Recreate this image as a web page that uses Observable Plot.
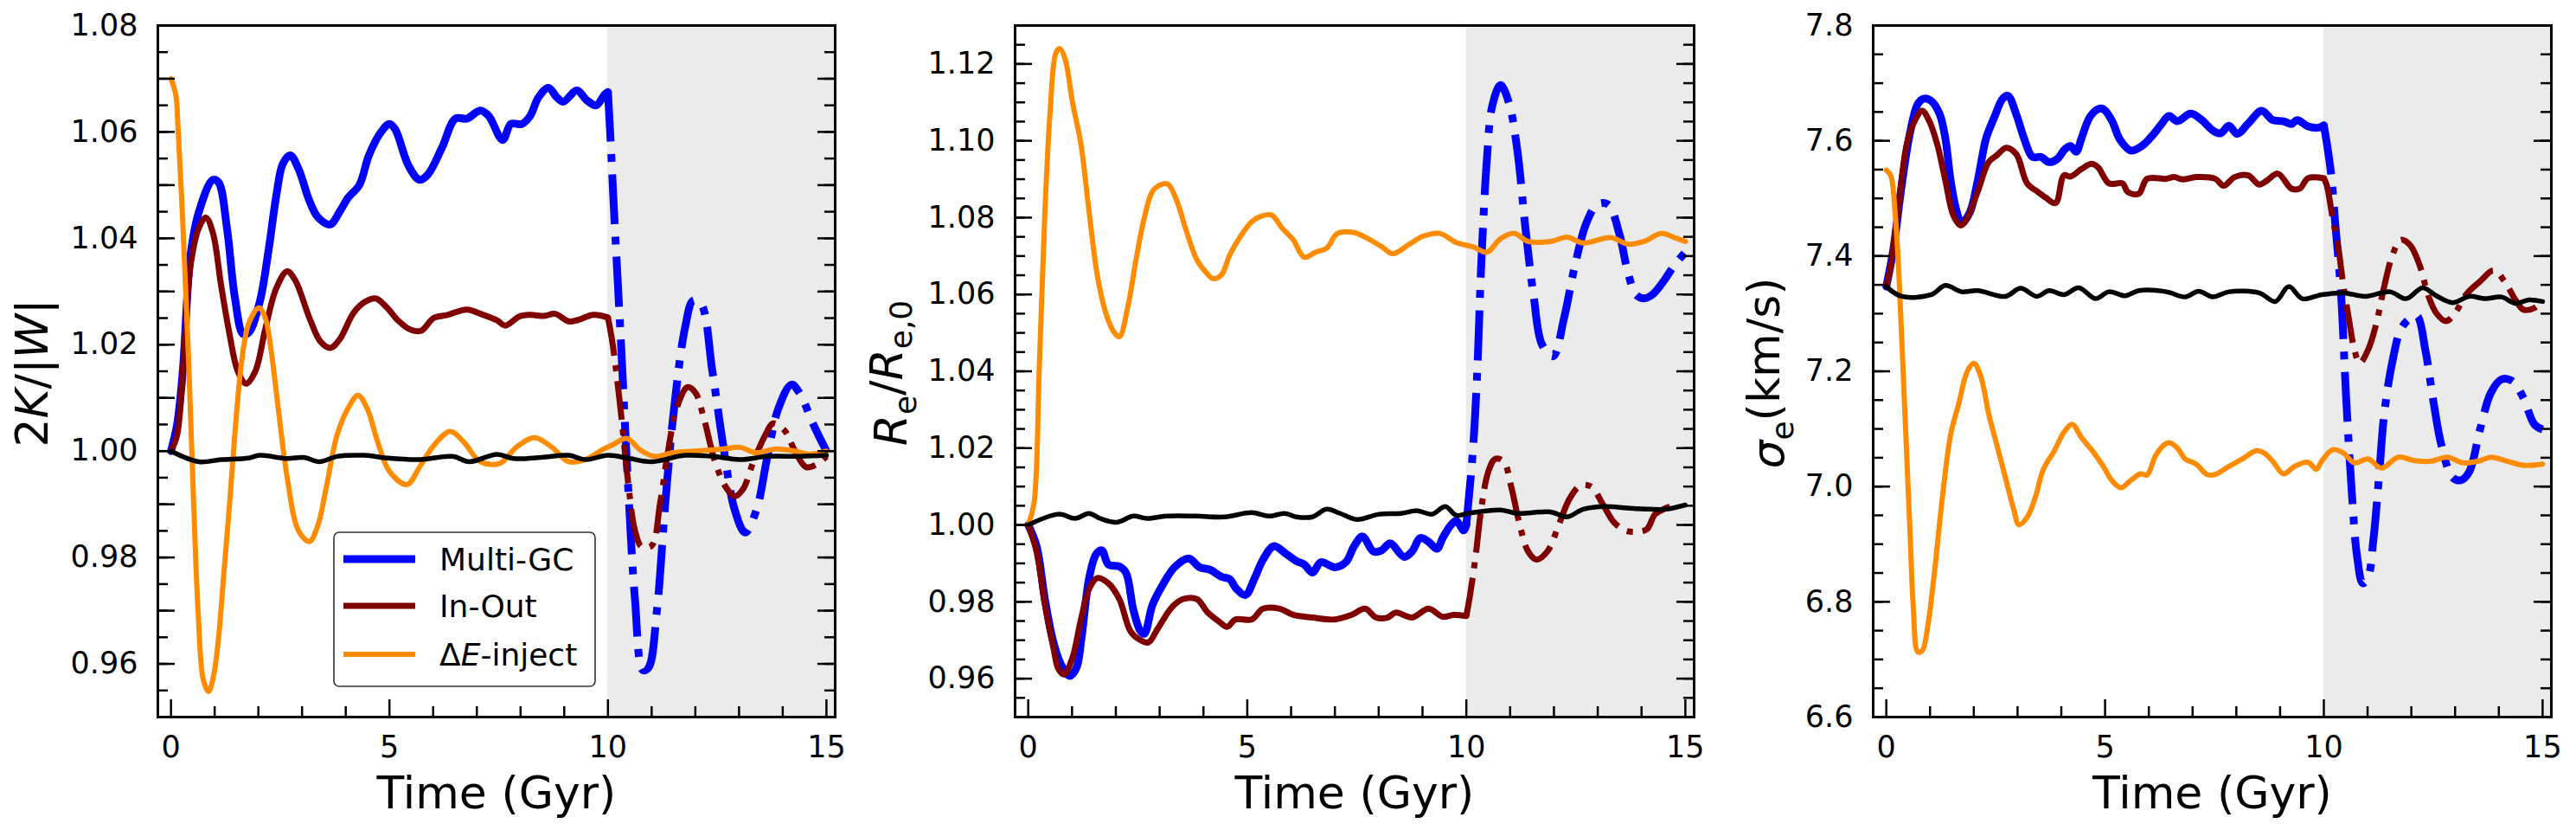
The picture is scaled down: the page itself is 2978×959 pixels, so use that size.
<!DOCTYPE html>
<html><head><meta charset="utf-8">
<script src="https://cdn.jsdelivr.net/npm/d3@7"></script>
<script src="https://cdn.jsdelivr.net/npm/@observablehq/plot@0.6"></script>
<style>
body{margin:0;background:#fff;}
#wrap{position:relative;width:2978px;height:959px;overflow:hidden;font-family:"DejaVu Sans";}
#wrap svg{position:absolute;top:0;}
</style></head><body><div id="wrap"></div>
<script>
// ---------- shared axis values ----------
const xLabel = "Time (Gyr)";
const xDomain = [-0.3, 15.2];
const xMajorTicks = [0, 5, 10, 15];
const xMinorTicks = [1, 2, 3, 4, 6, 7, 8, 9, 11, 12, 13, 14];
const shadeStart = 10;     // grey region begins (Gyr)
const phaseSplit = 10;     // solid -> dash-dot for Multi-GC / In-Out
const legendNames = ["Multi-GC", "In-Out", "ΔE-inject"];

// ---------- panel 1 : 2K/|W| ----------
const p1YDomain = [0.95, 1.08];
const p1YLabels = [0.96, 0.98, 1.00, 1.02, 1.04, 1.06, 1.08];
const p1YMajor = [0.95, 0.96, 0.97, 0.98, 0.99, 1.00, 1.01, 1.02, 1.03, 1.04, 1.05, 1.06, 1.07, 1.08];
const p1YMinorStep = 0.005;
const p1Multi = [[0,1.000],[0.14,1.005],[0.27,1.015],[0.45,1.037],[0.64,1.045],[0.96,1.051],[1.09,1.0505],[1.28,1.042],[1.46,1.029],[1.65,1.022],[1.78,1.0223],[2.03,1.028],[2.22,1.037],[2.41,1.048],[2.56,1.054],[2.73,1.0556],[2.92,1.053],[3.17,1.047],[3.36,1.044],[3.64,1.0426],[3.86,1.045],[4.05,1.0476],[4.31,1.050],[4.53,1.0556],[4.81,1.060],[5.0,1.0615],[5.13,1.0605],[5.44,1.0536],[5.69,1.051],[5.88,1.052],[6.2,1.057],[6.51,1.0625],[6.77,1.0625],[7.08,1.064],[7.27,1.063],[7.59,1.0585],[7.78,1.0615],[8.03,1.0615],[8.22,1.063],[8.41,1.0665],[8.64,1.0683],[8.83,1.0665],[8.98,1.0657],[9.29,1.0678],[9.51,1.066],[9.73,1.065],[9.92,1.067],[10.0,1.0675],[10.05,1.060],[10.14,1.045],[10.3,1.020],[10.45,0.9952],[10.62,0.972],[10.8,0.9588],[10.93,0.9593],[11.12,0.970],[11.31,0.990],[11.5,1.007],[11.76,1.023],[11.95,1.0283],[12.13,1.0277],[12.39,1.015],[12.64,1.001],[12.9,0.989],[13.14,0.9847],[13.4,0.989],[13.65,0.999],[13.9,1.008],[14.2,1.0125],[14.4,1.0107],[14.7,1.005],[15.0,1.000]];
const p1InOut = [[0,1.000],[0.14,1.003],[0.27,1.015],[0.45,1.035],[0.64,1.042],[0.8,1.0439],[0.96,1.041],[1.15,1.031],[1.34,1.022],[1.53,1.015],[1.72,1.0127],[1.93,1.015],[2.16,1.023],[2.41,1.0306],[2.66,1.0338],[2.85,1.032],[3.17,1.025],[3.42,1.0206],[3.65,1.0194],[3.86,1.021],[4.18,1.026],[4.43,1.028],[4.68,1.0287],[4.94,1.027],[5.19,1.0246],[5.44,1.023],[5.72,1.0226],[6.01,1.025],[6.33,1.0256],[6.77,1.0266],[7.15,1.0256],[7.46,1.0246],[7.65,1.0236],[7.97,1.0253],[8.22,1.0256],[8.54,1.0254],[8.79,1.0258],[9.1,1.0244],[9.29,1.0246],[9.67,1.0256],[10.0,1.0251],[10.11,1.020],[10.3,1.007],[10.45,0.995],[10.62,0.985],[10.77,0.982],[11.0,0.9822],[11.19,0.990],[11.38,1.0002],[11.57,1.008],[11.82,1.012],[12.0,1.011],[12.2,1.006],[12.45,0.998],[12.7,0.9932],[12.9,0.9915],[13.08,0.9927],[13.33,0.998],[13.6,1.003],[13.78,1.0052],[14.03,1.004],[14.28,1.000],[14.53,0.997],[14.78,0.9975],[15.0,0.999]];
const p1Inject = [[0,1.070],[0.11,1.067],[0.16,1.061],[0.27,1.043],[0.39,1.020],[0.52,0.990],[0.62,0.970],[0.74,0.957],[0.86,0.9548],[0.98,0.958],[1.09,0.965],[1.21,0.977],[1.34,0.990],[1.46,1.003],[1.62,1.017],[1.78,1.024],[2.01,1.0269],[2.16,1.025],[2.29,1.019],[2.47,1.007],[2.66,0.995],[2.92,0.985],[3.17,0.983],[3.36,0.986],[3.55,0.993],[3.8,1.003],[4.05,1.008],[4.28,1.0105],[4.49,1.008],[4.75,1.0012],[5.0,0.9962],[5.4,0.9937],[5.69,0.997],[6.01,1.001],[6.39,1.0037],[6.7,1.0017],[7.08,0.998],[7.53,0.9977],[7.9,1.0007],[8.32,1.0025],[8.72,1.0007],[9.1,0.998],[9.48,0.9984],[9.86,1.0002],[10.11,1.0012],[10.43,1.0024],[10.74,1.0002],[11.06,0.999],[11.5,0.9997],[12.0,1.000],[12.64,1.0004],[13.02,1.0007],[13.4,0.9997],[13.84,1.0004],[14.28,1.000],[14.6,0.9994],[15.0,1.000]];
const p1Isolated = [[0,1.000],[0.64,0.998],[1.15,0.9984],[1.78,0.9987],[2.03,0.9992],[2.66,0.9986],[3.04,0.9988],[3.4,0.998],[3.8,0.999],[4.43,0.9992],[4.94,0.9987],[5.69,0.9984],[6.45,0.999],[6.83,0.998],[7.46,0.9994],[7.84,0.9986],[8.47,0.9988],[9.1,0.9992],[9.48,0.9984],[10.0,0.9992],[10.5,0.9986],[11.0,0.998],[11.76,0.9992],[12.39,0.999],[13.02,0.9984],[13.65,0.999],[14.4,0.999],[15.0,0.9992]];

// ---------- panel 2 : Re/Re,0 ----------
const p2YDomain = [0.95, 1.13];
const p2YLabels = [0.96, 0.98, 1.00, 1.02, 1.04, 1.06, 1.08, 1.10, 1.12];
const p2YMajor = p2YLabels;
const p2YMinorStep = 0.005;
const p2Multi = [[0,1.000],[0.19,0.9945],[0.38,0.9807],[0.57,0.9697],[0.76,0.9634],[0.95,0.9607],[1.1,0.9628],[1.22,0.971],[1.39,0.9862],[1.55,0.9924],[1.68,0.9934],[1.83,0.9897],[2.08,0.9892],[2.23,0.9876],[2.4,0.9779],[2.56,0.9724],[2.65,0.9717],[2.84,0.9793],[3.09,0.9848],[3.34,0.989],[3.66,0.9913],[3.91,0.989],[4.16,0.9883],[4.41,0.9865],[4.6,0.9859],[4.75,0.9834],[4.96,0.9818],[5.17,0.9862],[5.36,0.991],[5.61,0.9945],[5.86,0.9927],[6.12,0.9906],[6.3,0.9897],[6.49,0.9876],[6.68,0.9903],[7.0,0.989],[7.25,0.9903],[7.44,0.9945],[7.63,0.997],[7.88,0.9931],[8.07,0.9934],[8.26,0.9952],[8.58,0.9917],[8.76,0.9931],[8.95,0.9966],[9.14,0.9956],[9.33,0.9938],[9.46,0.9966],[9.65,1.000],[9.77,1.0011],[9.94,0.9986],[10.0,1.000],[10.15,1.0193],[10.25,1.040],[10.34,1.0676],[10.47,1.0952],[10.59,1.109],[10.78,1.1145],[10.97,1.110],[11.16,1.0979],[11.35,1.0772],[11.54,1.0593],[11.73,1.0469],[11.98,1.0439],[12.23,1.0538],[12.48,1.0676],[12.74,1.0786],[12.99,1.0834],[13.24,1.0834],[13.49,1.0759],[13.68,1.0662],[13.87,1.060],[14.06,1.059],[14.25,1.060],[14.5,1.0634],[14.75,1.0676],[15.0,1.071]];
const p2InOut = [[0,1.000],[0.19,0.9931],[0.38,0.9793],[0.57,0.9683],[0.69,0.9625],[0.82,0.9611],[1.01,0.9655],[1.2,0.9752],[1.39,0.9834],[1.58,0.9862],[1.83,0.9848],[2.08,0.9807],[2.33,0.9724],[2.52,0.9703],[2.74,0.9694],[2.96,0.9731],[3.28,0.9786],[3.53,0.9807],[3.85,0.9807],[4.1,0.9772],[4.35,0.9749],[4.54,0.9735],[4.73,0.9754],[5.1,0.9754],[5.36,0.9782],[5.74,0.9782],[6.05,0.9766],[6.49,0.9759],[7.0,0.9754],[7.38,0.9766],[7.69,0.9782],[7.94,0.9759],[8.2,0.9759],[8.39,0.9772],[8.76,0.9759],[9.14,0.9782],[9.46,0.9761],[9.71,0.9766],[10.0,0.9763],[10.09,0.9821],[10.21,0.9917],[10.34,1.0041],[10.5,1.0138],[10.66,1.0172],[10.85,1.0166],[11.03,1.0097],[11.22,1.000],[11.41,0.9931],[11.6,0.991],[11.85,0.9931],[12.11,1.000],[12.36,1.0069],[12.61,1.0103],[12.86,1.0099],[13.11,1.0055],[13.37,1.0007],[13.62,0.9986],[13.87,0.9982],[14.12,0.9989],[14.31,1.0028],[14.56,1.0044],[14.82,1.0055]];
const p2Inject = [[0,1.000],[0.13,1.0055],[0.25,1.040],[0.38,1.0814],[0.5,1.1076],[0.63,1.1228],[0.72,1.124],[0.84,1.1214],[1.01,1.110],[1.2,1.0993],[1.39,1.0814],[1.58,1.0648],[1.77,1.0552],[1.95,1.0503],[2.08,1.049],[2.27,1.0566],[2.46,1.069],[2.65,1.080],[2.84,1.0869],[3.03,1.0886],[3.19,1.0887],[3.4,1.0841],[3.59,1.0772],[3.85,1.069],[4.04,1.066],[4.22,1.0641],[4.41,1.0651],[4.6,1.0703],[4.85,1.0752],[5.1,1.0789],[5.3,1.0803],[5.55,1.0807],[5.8,1.0772],[6.05,1.0742],[6.3,1.0697],[6.56,1.071],[6.81,1.072],[7.06,1.0759],[7.44,1.0761],[7.76,1.0745],[8.07,1.0724],[8.32,1.0706],[8.7,1.0731],[9.02,1.0752],[9.39,1.0759],[9.77,1.0735],[10.15,1.0724],[10.47,1.071],[10.78,1.0745],[11.1,1.0759],[11.41,1.0738],[11.92,1.0738],[12.3,1.0749],[12.67,1.0734],[13.3,1.0748],[13.68,1.0731],[14.06,1.0738],[14.44,1.0759],[14.75,1.0748],[15.0,1.0738]];
const p2Isolated = [[0,1.000],[0.69,1.0028],[1.07,1.0017],[1.39,1.003],[1.64,1.0017],[2.02,1.0007],[2.4,1.0023],[2.71,1.0017],[3.15,1.0023],[3.85,1.0023],[4.48,1.0021],[5.1,1.0032],[5.49,1.0023],[5.86,1.003],[6.12,1.0021],[6.49,1.0021],[6.81,1.0041],[7.12,1.003],[7.5,1.0014],[8.01,1.0028],[8.51,1.003],[8.89,1.0037],[9.21,1.0028],[9.52,1.0048],[9.77,1.0025],[10.03,1.003],[10.78,1.0039],[11.16,1.003],[11.92,1.0034],[12.3,1.0021],[12.67,1.0041],[13.18,1.0048],[13.68,1.0044],[14.19,1.0041],[14.56,1.0041],[15.0,1.0052]];

// ---------- panel 3 : sigma_e (km/s) ----------
const p3YDomain = [6.6, 7.8];
const p3YLabels = [6.6, 6.8, 7.0, 7.2, 7.4, 7.6, 7.8];
const p3YMajor = p3YLabels;
const p3YMinorStep = 0.05;
const p3Multi = [[0,7.347],[0.16,7.411],[0.35,7.522],[0.54,7.613],[0.72,7.664],[0.85,7.673],[1.03,7.669],[1.22,7.646],[1.35,7.604],[1.47,7.531],[1.6,7.48],[1.72,7.457],[1.91,7.476],[2.09,7.531],[2.28,7.604],[2.47,7.641],[2.66,7.673],[2.78,7.678],[2.97,7.646],[3.15,7.604],[3.34,7.572],[3.53,7.572],[3.72,7.563],[3.9,7.568],[4.09,7.586],[4.21,7.591],[4.34,7.581],[4.46,7.604],[4.65,7.641],[4.84,7.655],[4.96,7.655],[5.15,7.636],[5.34,7.602],[5.59,7.583],[5.84,7.591],[6.08,7.609],[6.27,7.627],[6.46,7.643],[6.65,7.634],[6.96,7.647],[7.21,7.636],[7.46,7.618],[7.64,7.613],[7.83,7.626],[8.02,7.612],[8.27,7.63],[8.58,7.652],[8.83,7.636],[9.08,7.634],[9.26,7.629],[9.39,7.636],[9.64,7.625],[9.89,7.623],[10.0,7.627],[10.07,7.595],[10.17,7.54],[10.26,7.457],[10.39,7.338],[10.51,7.154],[10.64,6.989],[10.76,6.879],[10.89,6.832],[11.01,6.842],[11.13,6.906],[11.26,7.016],[11.38,7.126],[11.57,7.218],[11.76,7.273],[11.97,7.292],[12.13,7.296],[12.32,7.237],[12.51,7.145],[12.69,7.071],[12.94,7.016],[13.13,7.011],[13.32,7.025],[13.57,7.099],[13.82,7.163],[14.06,7.186],[14.31,7.183],[14.56,7.154],[14.81,7.108],[15.0,7.099]];
const p3InOut = [[0,7.347],[0.1,7.384],[0.29,7.494],[0.47,7.595],[0.66,7.636],[0.82,7.652],[0.97,7.636],[1.16,7.595],[1.35,7.531],[1.53,7.471],[1.7,7.453],[1.85,7.466],[2.09,7.512],[2.34,7.563],[2.53,7.575],[2.74,7.588],[2.97,7.577],[3.22,7.526],[3.47,7.511],[3.65,7.501],[3.87,7.492],[4.06,7.54],[4.21,7.538],[4.46,7.551],[4.69,7.56],[4.84,7.554],[5.09,7.526],[5.4,7.526],[5.52,7.511],[5.77,7.508],[5.96,7.534],[6.4,7.534],[6.58,7.537],[6.77,7.533],[7.08,7.537],[7.52,7.534],[7.71,7.522],[7.96,7.537],[8.27,7.54],[8.52,7.524],[8.7,7.531],[8.95,7.543],[9.26,7.517],[9.45,7.517],[9.64,7.535],[10.0,7.535],[10.07,7.522],[10.2,7.466],[10.32,7.42],[10.45,7.347],[10.57,7.292],[10.7,7.237],[10.82,7.214],[11.01,7.237],[11.2,7.283],[11.38,7.347],[11.57,7.402],[11.76,7.428],[11.97,7.419],[12.19,7.384],[12.38,7.333],[12.57,7.301],[12.79,7.287],[13.0,7.301],[13.25,7.333],[13.57,7.356],[13.88,7.375],[14.13,7.356],[14.38,7.324],[14.56,7.307],[14.81,7.31],[15.0,7.324]];
const p3Inject = [[0,7.549],[0.1,7.54],[0.2,7.476],[0.29,7.365],[0.41,7.154],[0.54,6.925],[0.62,6.787],[0.72,6.713],[0.82,6.715],[0.95,6.759],[1.1,6.851],[1.28,6.98],[1.47,7.09],[1.66,7.145],[1.85,7.2],[2.0,7.214],[2.16,7.191],[2.34,7.126],[2.53,7.071],[2.72,7.016],[2.91,6.961],[3.03,6.934],[3.22,6.947],[3.4,6.98],[3.59,7.03],[3.84,7.062],[4.06,7.094],[4.25,7.108],[4.46,7.085],[4.71,7.062],[4.96,7.035],[5.15,7.011],[5.36,6.998],[5.59,7.011],[5.81,7.022],[5.96,7.02],[6.15,7.053],[6.33,7.071],[6.46,7.076],[6.65,7.067],[6.83,7.048],[7.08,7.039],[7.33,7.021],[7.52,7.021],[7.83,7.035],[8.14,7.048],[8.45,7.062],[8.64,7.058],[8.83,7.044],[9.08,7.022],[9.33,7.035],[9.64,7.042],[9.83,7.03],[9.95,7.044],[10.2,7.064],[10.45,7.058],[10.7,7.041],[11.01,7.048],[11.32,7.032],[11.7,7.051],[12.07,7.045],[12.44,7.044],[12.82,7.051],[13.19,7.041],[13.57,7.045],[13.82,7.051],[14.19,7.044],[14.56,7.037],[15.0,7.039]];
const p3Isolated = [[0,7.347],[0.35,7.33],[1.03,7.333],[1.35,7.349],[1.72,7.338],[2.09,7.34],[2.72,7.33],[3.07,7.344],[3.44,7.33],[3.72,7.34],[4.06,7.333],[4.4,7.345],[4.78,7.326],[5.09,7.338],[5.46,7.331],[5.77,7.34],[6.4,7.338],[6.83,7.329],[7.14,7.339],[7.46,7.329],[7.83,7.338],[8.52,7.336],[8.89,7.321],[9.2,7.347],[9.51,7.326],[9.95,7.333],[10.45,7.336],[10.95,7.33],[11.51,7.338],[11.88,7.326],[12.26,7.345],[12.57,7.331],[12.94,7.319],[13.32,7.33],[13.69,7.326],[14.06,7.329],[14.38,7.318],[14.69,7.324],[15.0,7.321]];

// ---------- styles ----------
const C = {multi: "#0000ff", inout: "#800000", inject: "#ff8c00", iso: "#000000"};
const LW = {multi: 9, inout: 7, inject: 6, iso: 5.5};
const SHADE = "#ebebeb";
const FONT = "DejaVu Sans";
const H = 959, MT = 29, MB = 131;

function rows(a) { return a.map(([t, v]) => ({t, v})); }

function lineMarks(arr, color, w, splitDash) {
  const d = rows(arr);
  const base = {x: "t", y: "v", stroke: color, strokeWidth: w, curve: "catmull-rom", strokeLinejoin: "round"};
  if (!splitDash) return [Plot.line(d, {...base, strokeLinecap: "round"})];
  return [
    Plot.line(d.filter(p => p.t <= phaseSplit), {...base, strokeLinecap: "round"}),
    Plot.line(d.filter(p => p.t >= phaseSplit), {...base, strokeLinecap: "butt",
      strokeDasharray: [6.4 * w, 1.6 * w, 1.0 * w, 1.6 * w].join(",")})
  ];
}

function panel(cfg) {
  const fw = cfg.width - cfg.ml - cfg.mr, fh = H - MT - MB;
  const n0 = Math.round(cfg.yDomain[0] / cfg.yMinorStep), n1 = Math.round(cfg.yDomain[1] / cfg.yMinorStep);
  const yMinor = d3.range(n0, n1 + 1).map(k => +(k * cfg.yMinorStep).toFixed(4));
  const tk = {stroke: "#000", strokeWidth: 2.5};
  const plot = Plot.plot({
    width: cfg.width, height: H,
    marginLeft: cfg.ml, marginRight: cfg.mr, marginTop: MT, marginBottom: MB,
    style: {fontFamily: FONT, fontSize: "35px", background: "transparent", overflow: "visible", color: "#000"},
    x: {domain: xDomain},
    y: {domain: cfg.yDomain},
    marks: [
      Plot.rect([{x1: shadeStart, x2: xDomain[1]}], {x1: "x1", x2: "x2", fill: SHADE}),
      ...lineMarks(cfg.multi, C.multi, LW.multi, true),
      ...lineMarks(cfg.inout, C.inout, LW.inout, true),
      ...lineMarks(cfg.inject, C.inject, LW.inject, false),
      ...lineMarks(cfg.iso, C.iso, LW.iso, false),
      // inward ticks: left & right (y), bottom (x)
      Plot.tickY(yMinor, {y: d => d, insetRight: fw - 12, ...tk}),
      Plot.tickY(yMinor, {y: d => d, insetLeft: fw - 12, ...tk}),
      Plot.tickY(cfg.yMajor, {y: d => d, insetRight: fw - 20, ...tk}),
      Plot.tickY(cfg.yMajor, {y: d => d, insetLeft: fw - 20, ...tk}),
      Plot.tickX(xMinorTicks, {x: d => d, insetTop: fh - 12, ...tk}),
      Plot.tickX(xMajorTicks, {x: d => d, insetTop: fh - 20, ...tk}),
      Plot.axisY({ticks: cfg.yLabels, tickSize: 0, tickPadding: 23, tickFormat: d3.format(cfg.fmt), label: null, fontSize: 35}),
      Plot.axisX({ticks: xMajorTicks, tickSize: 0, tickPadding: 22, tickFormat: d3.format("d"), label: null, fontSize: 35}),
      Plot.text([xLabel], {text: d => d, frameAnchor: "bottom", dy: 105, lineAnchor: "bottom", fontSize: 52}),
      Plot.frame({stroke: "#000", strokeWidth: 3})
    ]
  });
  plot.style.left = cfg.left + "px";
  document.getElementById("wrap").appendChild(plot);
  // rich y label (italic symbols, subscripts)
  const svg = d3.select(plot);
  const t = svg.append("text")
    .attr("transform", `translate(${cfg.ylx},${cfg.yly}) rotate(-90)`)
    .attr("text-anchor", "middle").attr("font-family", FONT).attr("font-size", 52).attr("fill", "#000");
  cfg.ylabel.forEach(p => {
    const s = t.append("tspan").text(p.s);
    if (p.i) s.attr("font-style", "italic");
    if (p.sub) s.attr("font-size", 36).attr("dy", "0.3em");
    if (p.up) s.attr("dy", "-0.3em");
  });
  return svg;
}

const s1 = panel({left: 0, width: 993, ml: 182, mr: 28, yDomain: p1YDomain, yLabels: p1YLabels, yMajor: p1YMajor,
  yMinorStep: p1YMinorStep, fmt: ".2f", multi: p1Multi, inout: p1InOut, inject: p1Inject, iso: p1Isolated,
  ylx: 55, yly: 431, ylabel: [{s: "2"}, {s: "K", i: true}, {s: "/|"}, {s: "W", i: true}, {s: "|"}]});
panel({left: 993, width: 993, ml: 180, mr: 28, yDomain: p2YDomain, yLabels: p2YLabels, yMajor: p2YMajor,
  yMinorStep: p2YMinorStep, fmt: ".2f", multi: p2Multi, inout: p2InOut, inject: p2Inject, iso: p2Isolated,
  ylx: 55, yly: 431, ylabel: [{s: "R", i: true}, {s: "e", sub: true}, {s: "/", up: true}, {s: "R", i: true}, {s: "e,0", sub: true}]});
panel({left: 1986, width: 992, ml: 179, mr: 29, yDomain: p3YDomain, yLabels: p3YLabels, yMajor: p3YMajor,
  yMinorStep: p3YMinorStep, fmt: ".1f", multi: p3Multi, inout: p3InOut, inject: p3Inject, iso: p3Isolated,
  ylx: 76, yly: 431, ylabel: [{s: "σ", i: true}, {s: "e", sub: true}, {s: "(km/s)", up: true}]});

// legend (panel 1)
const lg = s1.append("g").attr("text-anchor", "start");
lg.append("rect").attr("x", 386).attr("y", 615).attr("width", 302).attr("height", 178).attr("rx", 6)
  .attr("fill", "#fff").attr("stroke", "#333").attr("stroke-width", 1.6);
const legendKeys = [["multi", 646], ["inout", 700], ["inject", 756]];
legendKeys.forEach(([k, y], i) => {
  lg.append("line").attr("x1", 397).attr("x2", 480).attr("y1", y).attr("y2", y)
    .attr("stroke", C[k]).attr("stroke-width", LW[k]);
  const tx = lg.append("text").attr("x", 508).attr("y", y + 13).attr("text-anchor", "start")
    .attr("font-family", FONT).attr("font-size", 36).attr("fill", "#000");
  if (k === "inject") {
    tx.append("tspan").text("Δ");
    tx.append("tspan").attr("font-style", "italic").text("E");
    tx.append("tspan").text("-inject");
  } else tx.text(legendNames[i]);
});
</script></body></html>
